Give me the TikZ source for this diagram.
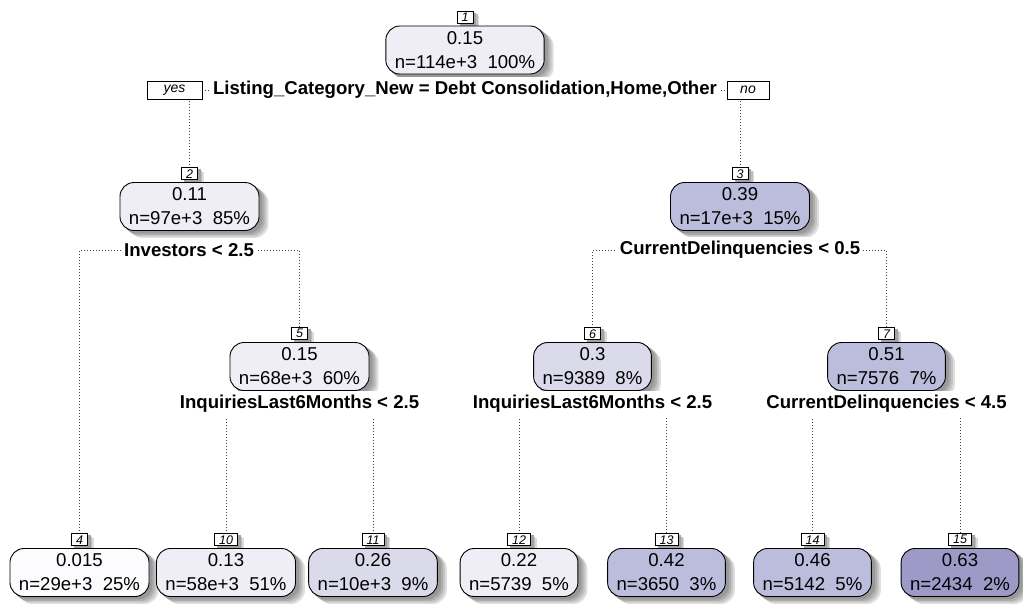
\documentclass[tikz,border=0pt]{standalone}
\usepackage{fontspec}
\setmainfont{Liberation Sans}
\usetikzlibrary{backgrounds}
\pgfdeclarelayer{shadow}
\pgfsetlayers{background,shadow,main}

% fill shades for the tree nodes (light to dark purple)
\definecolor{shadeA}{HTML}{FCFBFD}
\definecolor{shadeB}{HTML}{EFEDF5}
\definecolor{shadeC}{HTML}{DADAEB}
\definecolor{shadeD}{HTML}{BCBDDC}
\definecolor{shadeE}{HTML}{9E9AC8}

\begin{document}
\begin{tikzpicture}[x=1pt,y=-1pt,
  treenode/.style={draw=black, line width=0.9pt, rounded corners=14pt,
    align=center, inner xsep=9pt, inner ysep=0pt, minimum height=48pt,
    font=\fontsize{18.6}{24}\selectfont},
  idbox/.style={draw=black, line width=0.7pt, fill=white,
    font=\fontsize{12.5}{12.5}\selectfont\itshape, inner xsep=4.5pt, inner ysep=1.5pt,
    minimum height=12pt},
  splitlabel/.style={fill=white, font=\fontsize{18.6}{20}\selectfont\bfseries,
    inner xsep=3pt, inner ysep=4pt},
  answer/.style={draw=black, line width=0.7pt, fill=white,
    font=\fontsize{14}{14}\selectfont\itshape, minimum height=18pt, inner sep=0pt},
  link/.style={draw=black!75, line width=0.8pt, dash pattern=on 0.8pt off 2.2pt},
]
\useasboundingbox (0,0) rectangle (1023,603);

% tree nodes
\node[treenode, fill=shadeB] (n1)  at (465,50)    {0.15\\n=114e+3\ \ 100\%};
\node[treenode, fill=shadeB] (n2)  at (189.5,206.5) {0.11\\n=97e+3\ \ 85\%};
\node[treenode, fill=shadeD] (n3)  at (740,206.5)   {0.39\\n=17e+3\ \ 15\%};
\node[treenode, fill=shadeB] (n5)  at (299.5,366.5) {0.15\\n=68e+3\ \ 60\%};
\node[treenode, fill=shadeC] (n6)  at (592.5,366.5) {0.3\\n=9389\ \ 8\%};
\node[treenode, fill=shadeD] (n7)  at (886.5,366.5) {0.51\\n=7576\ \ 7\%};
\node[treenode, fill=shadeA] (n4)  at (79.5,572.5)  {0.015\\n=29e+3\ \ 25\%};
\node[treenode, fill=shadeB] (n10) at (226,572.5)   {0.13\\n=58e+3\ \ 51\%};
\node[treenode, fill=shadeC] (n11) at (373,572.5)   {0.26\\n=10e+3\ \ 9\%};
\node[treenode, fill=shadeB] (n12) at (519,572.5)   {0.22\\n=5739\ \ 5\%};
\node[treenode, fill=shadeD] (n13) at (666.5,572.5) {0.42\\n=3650\ \ 3\%};
\node[treenode, fill=shadeD] (n14) at (812.5,572.5) {0.46\\n=5142\ \ 5\%};
\node[treenode, fill=shadeE] (n15) at (960,572.5)   {0.63\\n=2434\ \ 2\%};

% node numbers
\foreach \k in {1,2,3,4,5,6,7,10,11,12,13,14,15}
  \node[idbox, anchor=south] (k\k) at ([yshift=2pt]n\k.north) {\k};

% split labels
\node[splitlabel] (s1) at (465,90)  {Listing\_Category\_New = Debt Consolidation,Home,Other};
\node[splitlabel] (s2) at (189,250) {Investors < 2.5};
\node[splitlabel] (s3) at (740,250) {CurrentDelinquencies < 0.5};
\node[splitlabel] (s4) at (299.5,404) {InquiriesLast6Months < 2.5};
\node[splitlabel] (s5) at (592.5,404) {InquiriesLast6Months < 2.5};
\node[splitlabel] (s6) at (886.5,404) {CurrentDelinquencies < 4.5};

\node[answer, minimum width=55pt] (yes) at (174.5,90) {yes};
\node[answer, minimum width=42pt] (no)  at (748,90)   {no};

% soft shadows: stacked grey copies, lightest and farthest first
\begin{pgfonlayer}{shadow}
  \foreach \b in {n1,n2,n3,n4,n5,n6,n7,n10,n11,n12,n13,n14,n15}{
    \foreach \dx/\dy/\g in {9/7/13, 7/5.5/23, 5/4/32, 3/2.5/40}{
      \fill[black!\g, rounded corners=14pt]
        ([shift={(\dx pt,-\dy pt)}]\b.north west) rectangle
        ([shift={(\dx pt,-\dy pt)}]\b.south east);
    }
  }
  \foreach \b in {k1,k2,k3,k4,k5,k6,k7,k10,k11,k12,k13,k14,k15}{
    \foreach \dx/\dy/\g in {6/5/14, 4.5/3.5/26, 3/2/36}{
      \fill[black!\g]
        ([shift={(\dx pt,-\dy pt)}]\b.north west) rectangle
        ([shift={(\dx pt,-\dy pt)}]\b.south east);
    }
  }
\end{pgfonlayer}

% dotted branches
\begin{scope}[on background layer]
  \fill[white] (0,0) rectangle (1023,603);
  \draw[link] (k2.north)  |- (s1.center) -| (k3.north);
  \draw[link] (k4.north)  |- (s2.center) -| (k5.north);
  \draw[link] (k6.north)  |- (s3.center) -| (k7.north);
  \draw[link] (k10.north) |- (s4.center) -| (k11.north);
  \draw[link] (k12.north) |- (s5.center) -| (k13.north);
  \draw[link] (k14.north) |- (s6.center) -| (k15.north);
\end{scope}
\end{tikzpicture}
\end{document}
